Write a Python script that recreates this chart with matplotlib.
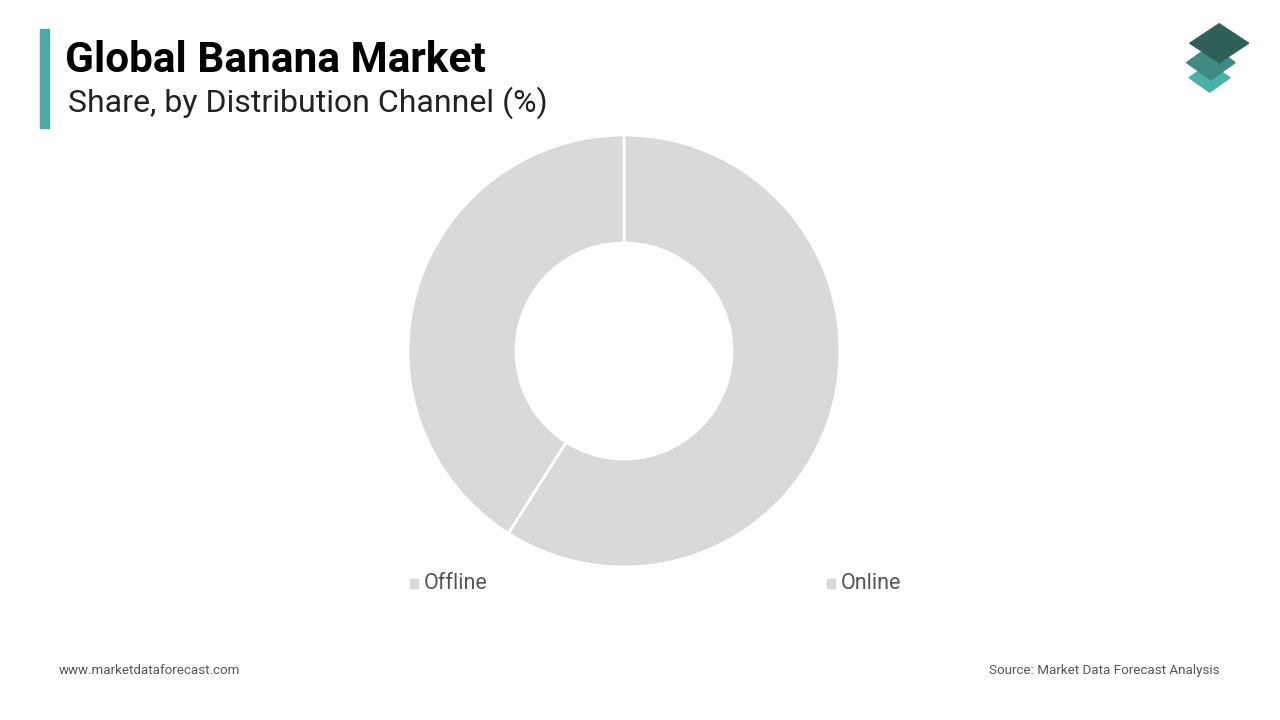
import matplotlib
matplotlib.use("Agg")
import matplotlib.pyplot as plt
from matplotlib.patches import Polygon, Rectangle

categories = ["Online", "Offline"]
values = [59, 41]
colors = ["#d9d9d9", "#d9d9d9"]

plt.rcParams['font.family'] = ['Roboto', 'DejaVu Sans']
fig = plt.figure(figsize=(12.8, 7.2), dpi=100)

ax = fig.add_axes([0.31875, 0.2125, 0.3375, 0.6])
ax.pie(values, colors=colors, startangle=90, counterclock=False, radius=1.0,
       wedgeprops=dict(width=0.5, edgecolor="white", linewidth=2))
ax.set_xlim(-1, 1)
ax.set_ylim(-1, 1)
ax.set_aspect("equal")

# title
fig.add_artist(Rectangle((0.031, 0.822), 0.007, 0.138, color="#4aa8a5", transform=fig.transFigure))
fig.text(0.051, 0.916, "Global Banana Market", fontsize=30.5, fontweight="bold", va="center")
fig.text(0.053, 0.857, "Share, by Distribution Channel (%)", fontsize=23, va="center", color="#222222")

# legend
for x, lab in [(0.32, "Offline"), (0.646, "Online")]:
    fig.add_artist(Rectangle((x, 0.184), 0.0065, 0.0115, color="#d9d9d9", transform=fig.transFigure))
    fig.text(x + 0.011, 0.19, lab, fontsize=15.5, color="#555555", va="center")

fig.text(0.046, 0.069, "www.marketdataforecast.com", fontsize=9.6, color="#555555", va="center")
fig.text(0.953, 0.069, "Source: Market Data Forecast Analysis", fontsize=9.6, color="#555555", va="center", ha="right")

# logo
def diamond(cx, cy, w, h, c):
    fig.add_artist(Polygon([(cx - w, cy), (cx, cy + h), (cx + w, cy), (cx, cy - h)],
                           closed=True, color=c, transform=fig.transFigure))
diamond(0.945, 0.892, 0.016, 0.02, "#4ab0aa")
diamond(0.946, 0.913, 0.019, 0.024, "#3f8a83")
diamond(0.9525, 0.94, 0.023, 0.027, "#2e5f58")

fig.savefig("out.png", dpi=100, facecolor="white")
